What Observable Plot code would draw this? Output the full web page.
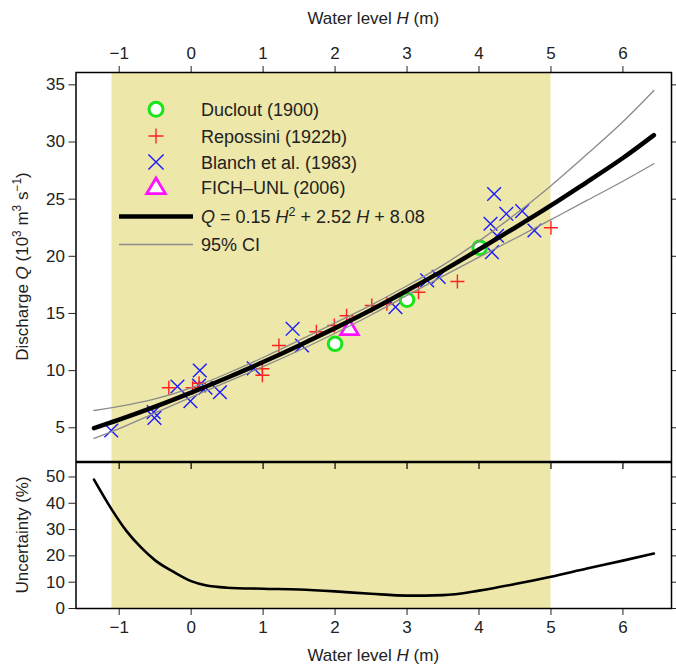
<!DOCTYPE html>
<html><head><meta charset="utf-8">
<script src="https://cdn.jsdelivr.net/npm/d3@7"></script>
<script src="https://cdn.jsdelivr.net/npm/@observablehq/plot@0.6"></script>
<style>
body{margin:0;background:#fff;}
#chart svg{display:block;}
</style></head><body><div id="chart"></div>
<script>
// ---- data ----
const H_ducl = [2.0, 3.0, 4.01];
const Q_ducl = [12.35, 16.2, 20.75];
const H_rep = [-0.31, 0.02, 0.11, 0.99, 0.99, 1.22, 1.74, 1.99, 2.16, 2.51, 2.72, 3.16, 3.7, 4.0, 5.0];
const Q_rep = [8.5, 8.5, 8.9, 10.16, 9.6, 12.2, 13.4, 13.95, 14.8, 15.7, 15.85, 16.86, 17.8, 20.75, 22.5];
const H_bl = [-1.11, -0.52, -0.51, -0.19, -0.01, 0.11, 0.12, 0.2, 0.4, 0.87, 1.41, 1.54, 2.84, 3.28, 3.44, 4.16, 4.18, 4.21, 4.25, 4.38, 4.6, 4.77];
const Q_bl = [4.76, 6.37, 5.87, 8.61, 7.33, 8.7, 10.01, 8.5, 8.11, 10.2, 13.66, 12.2, 15.55, 17.9, 18.2, 22.85, 20.36, 25.45, 21.8, 23.72, 23.95, 22.26];
const H_fich = [2.2];
const Q_fich = [13.7];
const H_grid = [-1.35, -1, -0.5, 0, 0.5, 1, 1.5, 2, 2.5, 3, 3.5, 4, 4.5, 5, 5.5, 6, 6.43];
const Q_fit = [4.97, 5.71, 6.85, 8.08, 9.38, 10.75, 12.2, 13.72, 15.3, 17.0, 18.75, 20.6, 22.5, 24.45, 26.5, 28.6, 30.6];
const Q_upper = [6.51, 6.87, 7.53, 8.49, 9.75, 11.15, 12.64, 14.17, 15.73, 17.42, 19.23, 21.33, 23.65, 26.17, 28.92, 31.77, 34.5];
const Q_lower = [4.07, 4.93, 6.30, 7.67, 9.01, 10.35, 11.76, 13.27, 14.87, 16.58, 18.27, 19.93, 21.56, 23.21, 24.89, 26.57, 28.1];
const H_unc = [-1.35, -1.1, -0.9, -0.7, -0.5, -0.25, 0, 0.2, 0.5, 1, 1.5, 2, 2.5, 3, 3.5, 4, 4.5, 5, 5.5, 6, 6.43];
const U_unc = [49, 37.5, 29.5, 23.3, 18.3, 14, 10.4, 8.8, 7.9, 7.5, 7.2, 6.5, 5.6, 4.9, 5.1, 6.8, 9.3, 12.1, 15.2, 18.2, 20.9];
const xTicks = [-1, 0, 1, 2, 3, 4, 5, 6];
const qTicks = [5, 10, 15, 20, 25, 30, 35];
const uTicks = [0, 10, 20, 30, 40, 50];
const shade = [-1.1, 5.0];
const legendLabels = ["Duclout (1900)", "Repossini (1922b)", "Blanch et al. (1983)", "FICH\u2013UNL (2006)"];

// ---- tables ----
const pts = (H, Q) => H.map((h, i) => ({H: h, Q: Q[i]}));
const ducl = pts(H_ducl, Q_ducl), rep = pts(H_rep, Q_rep), bl = pts(H_bl, Q_bl), fich = pts(H_fich, Q_fich);
const curve = H_grid.map((h, i) => ({H: h, fit: Q_fit[i], up: Q_upper[i], lo: Q_lower[i]}));
const unc = H_unc.map((h, i) => ({H: h, U: U_unc[i]}));

// custom symbols (r = Plot dot radius)
const symPlus = {draw(c, s){ const r = Math.sqrt(s/Math.PI); c.moveTo(-r,0); c.lineTo(r,0); c.moveTo(0,-r); c.lineTo(0,r); }};
const symTimes = {draw(c, s){ const r = Math.sqrt(s/Math.PI)*0.72; c.moveTo(-r,-r); c.lineTo(r,r); c.moveTo(-r,r); c.lineTo(r,-r); }};
const symTri = {draw(c, s){ const r = Math.sqrt(s/Math.PI); c.moveTo(0,-0.95*r); c.lineTo(0.98*r,0.7*r); c.lineTo(-0.98*r,0.7*r); c.closePath(); }};

const font = '"Liberation Sans", Arial, Helvetica, sans-serif';
const W = 676, xDomain = [-1.6, 6.675];
const style = {fontFamily: font, fontSize: "17px", color: "#222", background: "transparent", overflow: "visible"};

const topPlot = Plot.plot({
  width: W, height: 462, marginTop: 72, marginBottom: 1, marginLeft: 75.5, marginRight: 5,
  style,
  x: {domain: xDomain},
  y: {domain: [2.05, 36.08]},
  marks: [
    Plot.rect([shade], {x1: d => d[0], x2: d => d[1], fill: "#ede7aa"}),
    Plot.dot(bl, {x: "H", y: "Q", symbol: symTimes, r: 9.5, stroke: "#1a1aff", strokeWidth: 1.4}),
    Plot.dot(rep, {x: "H", y: "Q", symbol: symPlus, r: 7, stroke: "#ff2020", strokeWidth: 1.4}),
    Plot.dot(ducl, {x: "H", y: "Q", symbol: "circle", r: 6.8, stroke: "#19e619", strokeWidth: 3, fill: "white"}),
    Plot.dot(fich, {x: "H", y: "Q", symbol: symTri, r: 9, stroke: "#ff10ff", strokeWidth: 2.8, fill: "white"}),
    Plot.line(curve, {x: "H", y: "up", stroke: "#8a8a8a", strokeWidth: 1.3, curve: "natural"}),
    Plot.line(curve, {x: "H", y: "lo", stroke: "#8a8a8a", strokeWidth: 1.3, curve: "natural"}),
    Plot.line(curve, {x: "H", y: "fit", stroke: "black", strokeWidth: 4.5, curve: "natural"}),
    Plot.axisX({anchor: "top", ticks: xTicks, tickSize: 7, tickPadding: 7, label: null}),
    Plot.axisY({anchor: "left", ticks: qTicks, tickSize: 7, tickPadding: 4, label: null}),
    Plot.axisY({anchor: "right", ticks: qTicks, tickSize: 5, tickFormat: () => "", label: null}),
    Plot.frame({stroke: "black", strokeWidth: 1.5})
  ]
});

const botPlot = Plot.plot({
  width: W, height: 202, marginTop: 0, marginBottom: 56, marginLeft: 75.5, marginRight: 5,
  style,
  x: {domain: xDomain},
  y: {domain: [0, 55.5]},
  marks: [
    Plot.rect([shade], {x1: d => d[0], x2: d => d[1], fill: "#ede7aa"}),
    Plot.line(unc, {x: "H", y: "U", stroke: "black", strokeWidth: 2.6, curve: "monotone-x"}),
    Plot.tickX(xTicks, {x: d => d, stroke: "black", strokeWidth: 1.2, insetBottom: 139}),
    Plot.axisX({anchor: "bottom", ticks: xTicks, tickSize: 7, tickPadding: 5, label: null}),
    Plot.axisY({anchor: "left", ticks: uTicks, tickSize: 7, tickPadding: 4, label: null}),
    Plot.axisY({anchor: "right", ticks: uTicks, tickSize: 5, tickFormat: () => "", label: null}),
    Plot.frame({stroke: "black", strokeWidth: 1.5})
  ]
});

const chart = document.getElementById("chart");
chart.appendChild(topPlot);
chart.appendChild(botPlot);

// ---- axis titles & legend (text) ----
const txtColor = "#222";
function richText(sel, parts, size) {
  const t = sel.append("text").attr("fill", txtColor).attr("font-family", font).attr("font-size", size);
  parts.forEach(p => {
    const s = t.append("tspan").text(p.t);
    if (p.i) s.attr("font-style", "italic");
    if (p.sup) s.attr("font-size", size * 0.7).attr("dy", p.dy);
    else if (p.dy) s.attr("dy", p.dy);
  });
  return t;
}
const ts = d3.select(topPlot), bs = d3.select(botPlot);
const cx = (75.5 + 671) / 2;
richText(ts, [{t: "Water level "}, {t: "H", i: 1}, {t: " (m)"}], 17)
  .attr("x", cx).attr("y", 24).attr("text-anchor", "middle");
richText(bs, [{t: "Water level "}, {t: "H", i: 1}, {t: " (m)"}], 17)
  .attr("x", cx).attr("y", 199).attr("text-anchor", "middle");
richText(ts, [{t: "Discharge "}, {t: "Q", i: 1}, {t: " (10"}, {t: "3", sup: 1, dy: -7}, {t: " m", dy: 7}, {t: "3", sup: 1, dy: -7}, {t: " s", dy: 7}, {t: "\u22121", sup: 1, dy: -7}, {t: ")", dy: 7}], 17)
  .attr("text-anchor", "middle").attr("transform", "translate(28,266.5) rotate(-90)");
richText(bs, [{t: "Uncertainty (%)"}], 17)
  .attr("text-anchor", "middle").attr("transform", "translate(28,73) rotate(-90)");

// legend
const LF = 18;
const lg = ts.append("g").attr("text-anchor", "start");
const symX = 156, txtX = 201;
const rowsY = [109.3, 136, 162, 187, 216.5, 244.5];
lg.append("circle").attr("cx", symX).attr("cy", rowsY[0]).attr("r", 7).attr("fill", "white").attr("stroke", "#19e619").attr("stroke-width", 3);
lg.append("path").attr("transform", `translate(${symX},${rowsY[1]})`).attr("d", d3.symbol(symPlus, Math.PI * 7.5 * 7.5)()).attr("stroke", "#ff2020").attr("stroke-width", 1.4).attr("fill", "none");
lg.append("path").attr("transform", `translate(${symX},${rowsY[2]})`).attr("d", d3.symbol(symTimes, Math.PI * 10.5 * 10.5)()).attr("stroke", "#1a1aff").attr("stroke-width", 1.4).attr("fill", "none");
lg.append("path").attr("transform", `translate(${symX},${rowsY[3]})`).attr("d", d3.symbol(symTri, Math.PI * 9.5 * 9.5)()).attr("stroke", "#ff10ff").attr("stroke-width", 2.8).attr("fill", "white");
lg.append("line").attr("x1", 119).attr("x2", 193).attr("y1", rowsY[4]).attr("y2", rowsY[4]).attr("stroke", "black").attr("stroke-width", 4.5);
lg.append("line").attr("x1", 119).attr("x2", 193).attr("y1", rowsY[5]).attr("y2", rowsY[5]).attr("stroke", "#8a8a8a").attr("stroke-width", 1.3);
legendLabels.forEach((s, i) => {
  richText(lg, [{t: s}], LF).attr("text-anchor", "start").attr("x", txtX).attr("y", rowsY[i] + 6.5);
});
richText(lg, [{t: "Q", i: 1}, {t: " = 0.15 "}, {t: "H", i: 1}, {t: "2", sup: 1, dy: -7.5}, {t: " + 2.52 ", dy: 7.5}, {t: "H", i: 1}, {t: " + 8.08"}], LF)
  .attr("text-anchor", "start").attr("x", txtX).attr("y", rowsY[4] + 6.5);
richText(lg, [{t: "95% CI"}], LF).attr("text-anchor", "start").attr("x", txtX).attr("y", rowsY[5] + 6.5);
</script></body></html>
